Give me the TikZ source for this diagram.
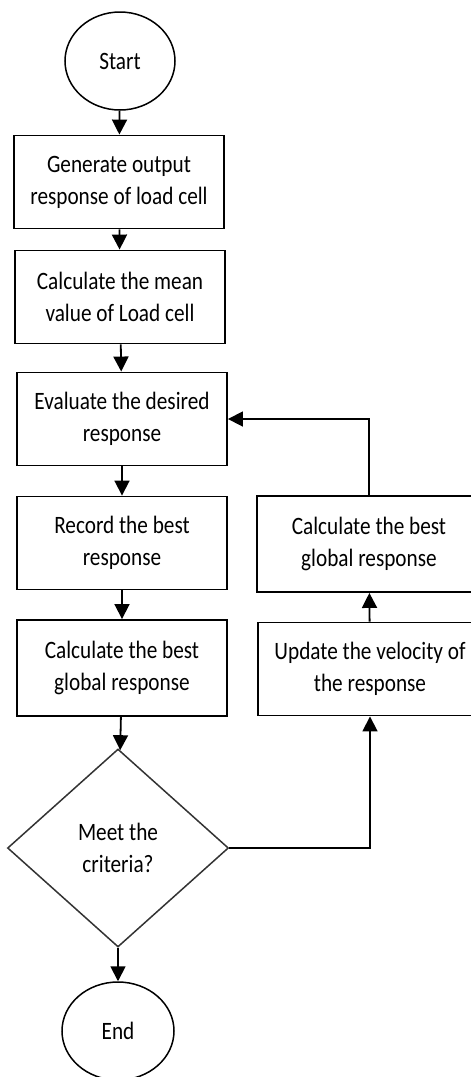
\documentclass[tikz,border=0pt]{standalone}
\usepackage{fontspec}
\setmainfont{Carlito}[FakeStretch=0.85]
\usetikzlibrary{shapes.geometric,arrows.meta}

\tikzset{
  box/.style={draw,line width=1.9pt,minimum width=210pt,minimum height=93pt,align=center,inner sep=0pt},
  term/.style={draw,ellipse,line width=1.5pt,minimum width=110pt,minimum height=98pt,inner sep=0pt},
  test/.style={draw=black!80,diamond,line width=1.5pt,minimum width=221pt,minimum height=198pt,align=center,inner sep=0pt},
  link/.style={line width=1.8pt,-{Triangle[length=15pt,width=15pt]}}
}

\begin{document}
\begin{tikzpicture}[x=1pt,y=-1pt,font=\fontsize{25}{32}\selectfont]
            \useasboundingbox (0,0) rectangle (471,1077);
            \clip (0,0) rectangle (471,1077);

            \node[term] (start) at (120,61) {Start};
            \node[box] (gen) at (119,182) {Generate output\\response of load cell};
            \node[box] (mean) at (120,297) {Calculate the mean\\value of Load cell};
            \node[box] (eval) at (122,419) {Evaluate the desired\\response};
            \node[box] (rec) at (122,543) {Record the best\\response};
            \node[box,minimum height=96pt] (glob) at (122,668) {Calculate the best\\global response};
            \node[test] (crit) at (118,848) {Meet the\\criteria?};
            \node[term,minimum width=112pt] (stop) at (118,1031) {End};

            \node[box,minimum width=224pt,minimum height=96pt] (glob2) at (369,544) {Calculate the best\\global response};
            \node[box,minimum width=224pt] (vel) at (370,669) {Update the velocity of\\the response};

            \draw[link] (start) -- (gen);
            \draw[link] (gen) -- (mean);
            \draw[link] (mean) -- (eval);
            \draw[link] (eval) -- (rec);
            \draw[link] (rec) -- (glob);
            \draw[link] (glob) -- (crit);
            \draw[link] (crit) -- (stop);
            \draw[link] (crit.east) -| (vel.south);
            \draw[link] (vel) -- (glob2);
            \draw[link] (glob2.north) |- (eval.east);
\end{tikzpicture}
\end{document}
